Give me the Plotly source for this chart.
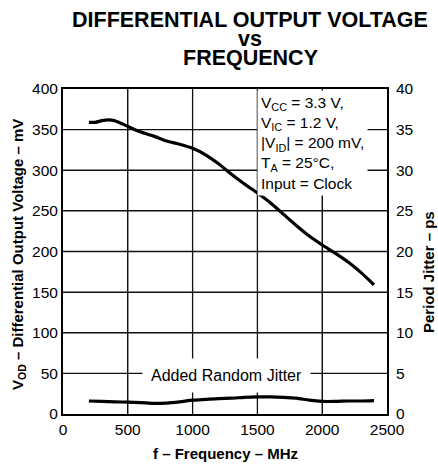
import plotly.graph_objects as go

# ---- data ----
freq_vod = [200, 250, 300, 350, 400, 500, 600, 700, 800, 900, 1000, 1100, 1200,
            1300, 1400, 1500, 1600, 1700, 1800, 1900, 2000, 2100, 2200, 2300, 2400]
vod_mv = [359, 359, 361, 362, 361, 354, 347, 342, 336, 332, 327, 319, 308,
          295, 283, 272, 260, 246, 232, 219, 208, 198, 187, 174, 159]

freq_jit = [200, 300, 400, 500, 600, 700, 800, 900, 1000, 1100, 1200, 1300,
            1400, 1500, 1600, 1700, 1800, 1900, 2000, 2100, 2200, 2300, 2400]
jitter_ps = [1.6, 1.55, 1.5, 1.45, 1.4, 1.3, 1.35, 1.5, 1.7, 1.8, 1.9, 1.95,
             2.05, 2.1, 2.1, 2.05, 1.95, 1.7, 1.55, 1.55, 1.6, 1.6, 1.65]

x_ticks = [0, 500, 1000, 1500, 2000, 2500]
y_left_ticks = [0, 50, 100, 150, 200, 250, 300, 350, 400]
y_right_ticks = [0, 5, 10, 15, 20, 25, 30, 35, 40]

title_lines = ["DIFFERENTIAL OUTPUT VOLTAGE", "vs", "FREQUENCY"]
conditions = ["V<sub>CC</sub> = 3.3 V,", "V<sub>IC</sub> = 1.2 V,",
              "|V<sub>ID</sub>| = 200 mV,", "T<sub>A</sub> = 25°C,", "Input = Clock"]

FONT = "Liberation Sans, Arial, sans-serif"

x_min, x_max = x_ticks[0], x_ticks[-1]
y_min, y_max = y_left_ticks[0], y_left_ticks[-1]

# grid lines built from the tick values, drawn on the data scales
gx, gy = [], []
for v in x_ticks[1:-1]:
    gx += [v, v, None]
    gy += [y_min, y_max, None]
for v in y_left_ticks[1:-1]:
    gx += [x_min, x_max, None]
    gy += [v, v, None]

fig = go.Figure()
fig.add_trace(go.Scatter(x=gx, y=gy, mode="lines", line=dict(color="#111111", width=1.3),
                         showlegend=False, hoverinfo="skip"))
fig.add_trace(go.Scatter(x=freq_vod, y=vod_mv, mode="lines",
                         line=dict(color="black", width=3.2, shape="spline", smoothing=0.6),
                         showlegend=False, hoverinfo="skip"))
fig.add_trace(go.Scatter(x=freq_jit, y=jitter_ps, mode="lines", yaxis="y2",
                         line=dict(color="black", width=3.2, shape="spline", smoothing=0.6),
                         showlegend=False, hoverinfo="skip"))

axis_common = dict(showline=True, linecolor="black", linewidth=2, mirror=True,
                   ticks="", zeroline=False, showgrid=True,
                   gridcolor="#111111", gridwidth=1,
                   tickfont=dict(family=FONT, size=15.5, color="black"))

fig.update_layout(
    width=438, height=466,
    margin=dict(l=63, r=51, t=89, b=52),
    paper_bgcolor="white", plot_bgcolor="white",
    font=dict(family=FONT, color="black"),
    xaxis=dict(range=[x_min, x_max], tickvals=x_ticks, **axis_common),
    yaxis=dict(range=[y_min, y_max], tickvals=y_left_ticks, **axis_common),
    yaxis2=dict(range=[y_right_ticks[0], y_right_ticks[-1]], tickvals=y_right_ticks,
                overlaying="y", side="right",
                showgrid=False, showline=False, ticks="", zeroline=False,
                ticklabelstandoff=8,
                tickfont=dict(family=FONT, size=15.5, color="black")),
)

# test conditions, white box covering the grid
fig.add_annotation(xref="paper", yref="paper", x=(257 - 63) / 324, y=0.997,
                   xanchor="left", yanchor="top", align="left", showarrow=False,
                   text="<br>".join(conditions), bgcolor="white", borderpad=3,
                   font=dict(family=FONT, size=15.5, color="black"))

# label for the jitter curve, white background covering the 50 mV grid line
fig.add_annotation(x=1258, y=48, xanchor="center", yanchor="middle", showarrow=False,
                   text="Added Random Jitter", bgcolor="white", borderpad=8,
                   font=dict(family=FONT, size=16, color="black"))

# title lines
for txt, ypx in zip(title_lines, [20, 39, 58]):
    fig.add_annotation(xref="paper", yref="paper", x=(250 - 63) / 324,
                       y=(414 - ypx) / 325, xanchor="center", yanchor="middle",
                       showarrow=False, text=f"<b>{txt}</b>",
                       font=dict(family=FONT, size=21.5, color="black"))

# axis titles
fig.add_annotation(xref="paper", yref="paper", x=0.5, y=(414 - 453) / 325,
                   xanchor="center", yanchor="middle",
                   showarrow=False, text="<b>f – Frequency – MHz</b>",
                   font=dict(family=FONT, size=15, color="black"))
fig.add_annotation(xref="paper", yref="paper", x=(18 - 63) / 324, y=(414 - 255) / 325,
                   xanchor="center", yanchor="middle",
                   showarrow=False, textangle=-90,
                   text="<b>V<sub>OD</sub> – Differential Output Voltage – mV</b>",
                   font=dict(family=FONT, size=15, color="black"))
fig.add_annotation(xref="paper", yref="paper", x=(428 - 63) / 324, y=(414 - 272) / 325,
                   xanchor="center", yanchor="middle",
                   showarrow=False, textangle=-90,
                   text="<b>Period Jitter – ps</b>",
                   font=dict(family=FONT, size=15, color="black"))

fig.write_html("out.html", config={"displayModeBar": False},
               post_script="document.body.style.margin='0px';")
